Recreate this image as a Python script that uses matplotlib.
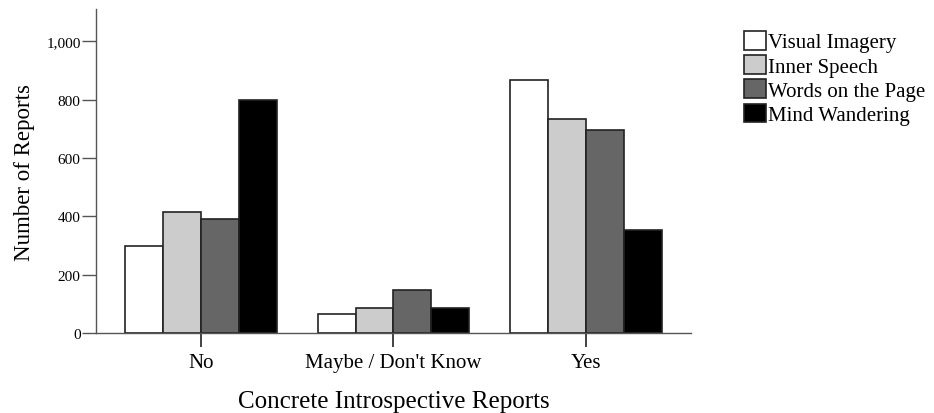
import matplotlib
matplotlib.use("Agg")
import matplotlib.pyplot as plt
import numpy as np

categories = ["No", "Maybe / Don't Know", "Yes"]
series_names = ["Visual Imagery", "Inner Speech", "Words on the Page", "Mind Wandering"]
visual_imagery = [298, 65, 868]
inner_speech = [414, 86, 732]
words_on_page = [391, 148, 695]
mind_wandering = [800, 86, 353]
yticks = [0, 200, 400, 600, 800, 1000]
ytick_labels = ["0", "200", "400", "600", "800", "1,000"]

series = [visual_imagery, inner_speech, words_on_page, mind_wandering]
colors = ["#ffffff", "#cccccc", "#666666", "#000000"]

plt.rcParams['font.family'] = ['Liberation Serif', 'DejaVu Serif']

fig = plt.figure(figsize=(9.34, 4.14), dpi=100)
ax = fig.add_axes([0.1028, 0.1925, 0.637, 0.7835])

x = np.arange(len(categories))
w = 0.197
for i, (vals, c, name) in enumerate(zip(series, colors, series_names)):
    ax.bar(x + (i - 1.5) * w, vals, width=w, color=c, edgecolor="#222222",
           linewidth=1.2, label=name, zorder=2)

ax.set_xlim(-0.545, 2.545)
ax.set_ylim(0, 1110)
ax.set_xticks(x)
ax.set_xticklabels(categories, fontsize=15)
ax.set_yticks(yticks)
ax.set_yticklabels(ytick_labels, fontsize=11)
for s in ["top", "right"]:
    ax.spines[s].set_visible(False)
for s in ["left", "bottom"]:
    ax.spines[s].set_color("#555555")
    ax.spines[s].set_linewidth(1.0)
ax.tick_params(axis="x", direction="out", length=10, width=1.2, color="#222222", pad=4)
ax.tick_params(axis="y", direction="out", length=10, width=1.0, color="#555555", pad=1)
ax.set_xlabel("Concrete Introspective Reports", fontsize=18, labelpad=13)
ax.set_ylabel("Number of Reports", fontsize=16.5, labelpad=8)

handles, labels = ax.get_legend_handles_labels()
fig.legend(handles, labels, loc="upper left", bbox_to_anchor=(744 / 934, 1 - 32 / 414),
           frameon=False, fontsize=15, handlelength=1.05, handleheight=1.0,
           handletextpad=0.12, labelspacing=0.13, borderpad=0, borderaxespad=0)

fig.savefig("out.png", dpi=100)
